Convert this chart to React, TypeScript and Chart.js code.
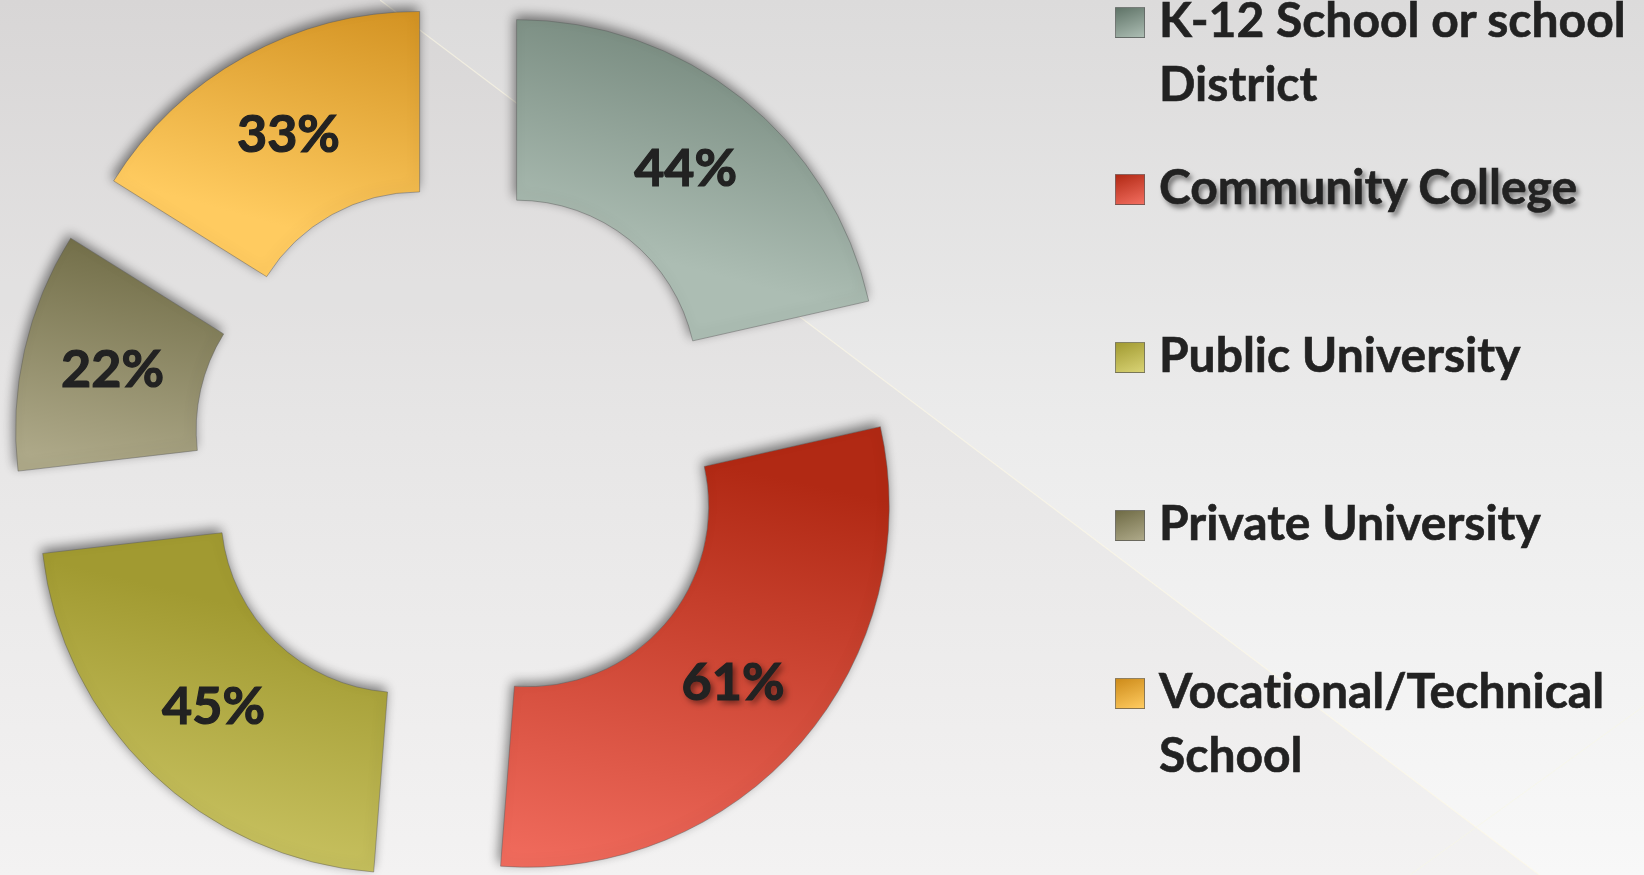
import React, { useEffect, useRef } from 'react';
import { Chart, registerables } from 'chart.js';

Chart.register(...registerables);

// ---------- data ----------
const CATEGORIES = [
  'K-12 School or school District',
  'Community College',
  'Public University',
  'Private University',
  'Vocational/Technical School',
];
const LEGEND_LINES = [
  ['K-12 School or school', 'District'],
  ['Community College'],
  ['Public University'],
  ['Private University'],
  ['Vocational/Technical', 'School'],
];
const VALUES = [44, 61, 45, 22, 33];
const DARK = ['#5f7367', '#b12914', '#a19a31', '#6f6b45', '#cd8b1a'];
const LIGHT = ['#acbdb3', '#f36e60', '#d9d375', '#aea989', '#ffcb60'];

// ---------- layout / style ----------
const W = 1644;
const H = 875;
const CENTER_X = 462;
const CENTER_Y = 449;
const RADIUS = 361;
const EXPLODE = 87.5;
const LEGEND_BASELINE = [38, 205, 373, 541, 709];
const LEGEND_TEXT_X = 1159;
const LEGEND_MARK_X = 1115;
const LEGEND_FONT = 48;
const LEGEND_LINE = 64;

function segmentGradient(c: any) {
  const i = c.dataIndex;
  const el = c.element;
  if (!el || el.outerRadius == null || !isFinite(el.startAngle) || !isFinite(el.x)) return DARK[i];
  const { x, y, startAngle, endAngle, innerRadius, outerRadius } = el;
  const mid = (startAngle + endAngle) / 2;
  const ax = x + Math.cos(mid) * EXPLODE;
  const ay = y + Math.sin(mid) * EXPLODE;
  let minX = Infinity, maxX = -Infinity, minY = Infinity, maxY = -Infinity;
  for (let k = 0; k <= 16; k++) {
    const a = startAngle + ((endAngle - startAngle) * k) / 16;
    for (const r of [innerRadius, outerRadius]) {
      const px = ax + Math.cos(a) * r;
      const py = ay + Math.sin(a) * r;
      minX = Math.min(minX, px); maxX = Math.max(maxX, px);
      minY = Math.min(minY, py); maxY = Math.max(maxY, py);
    }
  }
  const w = maxX - minX;
  const g = c.chart.ctx.createLinearGradient(minX + w * 0.62, minY, minX + w * 0.38, maxY);
  g.addColorStop(0, DARK[i]);
  g.addColorStop(1, LIGHT[i]);
  return g;
}

const backgroundPlugin = {
  id: 'pageBackground',
  beforeDraw(chart: any) {
    const ctx = chart.ctx;
    ctx.save();
    const g = ctx.createLinearGradient(0, 0, 0, H);
    g.addColorStop(0, '#dcdbdb');
    g.addColorStop(0.5, '#ececec');
    g.addColorStop(1, '#f8f8f8');
    ctx.fillStyle = g;
    ctx.fillRect(0, 0, W, H);
    // diagonal lower-left wedge
    ctx.beginPath();
    ctx.moveTo(380, 0);
    ctx.lineTo(1550, 883);
    ctx.lineTo(0, 883);
    ctx.lineTo(0, 0);
    ctx.closePath();
    ctx.fillStyle = 'rgba(120,112,90,0.04)';
    ctx.fill();
    ctx.beginPath();
    ctx.moveTo(380, 0);
    ctx.lineTo(1550, 883);
    ctx.strokeStyle = 'rgba(255,250,228,0.6)';
    ctx.lineWidth = 1.2;
    ctx.stroke();
    ctx.beginPath();
    ctx.moveTo(1644, 706);
    ctx.lineTo(1410, 875);
    ctx.strokeStyle = 'rgba(250,250,225,0.5)';
    ctx.lineWidth = 1;
    ctx.stroke();
    ctx.restore();
  },
};

const explodePlugin = {
  id: 'explodeArcs',
  beforeDatasetDraw(chart: any, args: any) {
    const ctx = chart.ctx;
    args.meta.data.forEach((arc: any) => {
      const mid = (arc.startAngle + arc.endAngle) / 2;
      ctx.save();
      ctx.translate(Math.cos(mid) * EXPLODE, Math.sin(mid) * EXPLODE);
      ctx.shadowColor = 'rgba(0,0,0,0.5)';
      ctx.shadowBlur = 12;
      ctx.shadowOffsetX = -2;
      ctx.shadowOffsetY = -4;
      arc.draw(ctx);
      ctx.restore();
    });
    return false;
  },
};

const labelPlugin = {
  id: 'arcLabels',
  afterDatasetsDraw(chart: any) {
    const ctx = chart.ctx;
    const meta = chart.getDatasetMeta(0);
    ctx.save();
    ctx.font = 'bold 52px Lato, "Open Sans", sans-serif';
    ctx.textAlign = 'center';
    ctx.textBaseline = 'middle';
    meta.data.forEach((arc: any, i: number) => {
      const mid = (arc.startAngle + arc.endAngle) / 2;
      const r = (arc.innerRadius + arc.outerRadius) / 2 + EXPLODE;
      const px = arc.x + Math.cos(mid) * r;
      const py = arc.y + Math.sin(mid) * r;
      ctx.save();
      if (i === 1) {
        ctx.shadowColor = 'rgba(0,0,0,0.55)';
        ctx.shadowBlur = 6;
        ctx.shadowOffsetX = 3;
        ctx.shadowOffsetY = 3;
      }
      ctx.fillStyle = '#222222';
      ctx.strokeStyle = '#222222';
      ctx.lineWidth = 1.2;
      ctx.fillText(VALUES[i] + '%', px, py);
      ctx.shadowColor = 'transparent';
      ctx.strokeText(VALUES[i] + '%', px, py);
      ctx.restore();
    });
    ctx.restore();
  },
};

export default function App() {
  const canvasRef = useRef<HTMLCanvasElement | null>(null);

  useEffect(() => {
    if (!canvasRef.current) return;
    const chart = new Chart(canvasRef.current, {
      type: 'doughnut',
      data: {
        labels: CATEGORIES,
        datasets: [
          {
            data: VALUES,
            backgroundColor: segmentGradient as any,
            borderColor: 'rgba(90,90,90,0.45)',
            borderWidth: 1,
            offset: 0,
            hoverOffset: 0,
          } as any,
        ],
      },
      options: {
        responsive: false,
        animation: false,
        events: [],
        radius: RADIUS,
        cutout: '50%',
        layout: {
          padding: {
            left: 0,
            right: W - CENTER_X * 2,
            top: CENTER_Y * 2 - H,
            bottom: 0,
          },
        },
        plugins: {
          legend: { display: false },
          tooltip: { enabled: false },
        },
      } as any,
      plugins: [backgroundPlugin, explodePlugin, labelPlugin],
    });
    chart.update();
    return () => chart.destroy();
  }, []);

  // baseline offset inside a line box for Lato (ascent 0.987em, descent 0.213em)
  const baselineInBox = (LEGEND_LINE - LEGEND_FONT * 1.2) / 2 + LEGEND_FONT * 0.987;

  return (
    <div
      style={{
        position: 'fixed',
        left: 0,
        top: 0,
        width: W,
        height: H,
        overflow: 'hidden',
      }}
    >
      <canvas
        ref={canvasRef}
        width={W}
        height={H}
        style={{ position: 'absolute', left: 0, top: 0, width: W, height: H }}
      />
      {LEGEND_LINES.map((lines, i) => (
        <React.Fragment key={i}>
          <div
            style={{
              position: 'absolute',
              left: LEGEND_MARK_X,
              top: LEGEND_BASELINE[i] - 31,
              width: 28,
              height: 29,
              border: '1px solid rgba(100,100,100,0.7)',
              background: `linear-gradient(160deg, ${DARK[i]}, ${LIGHT[i]})`,
            }}
          />
          <div
            style={{
              position: 'absolute',
              left: LEGEND_TEXT_X,
              top: LEGEND_BASELINE[i] - baselineInBox,
              font: `bold ${LEGEND_FONT}px Lato, "Open Sans", sans-serif`,
              fontVariantLigatures: 'none',
              lineHeight: `${LEGEND_LINE}px`,
              color: '#222222',
              whiteSpace: 'nowrap',
              WebkitTextStroke: '0.6px #222222',
              textShadow: i === 1 ? '3px 4px 5px rgba(0,0,0,0.5)' : 'none',
            }}
          >
            {lines.map((l, k) => (
              <div key={k}>{l}</div>
            ))}
          </div>
        </React.Fragment>
      ))}
    </div>
  );
}
